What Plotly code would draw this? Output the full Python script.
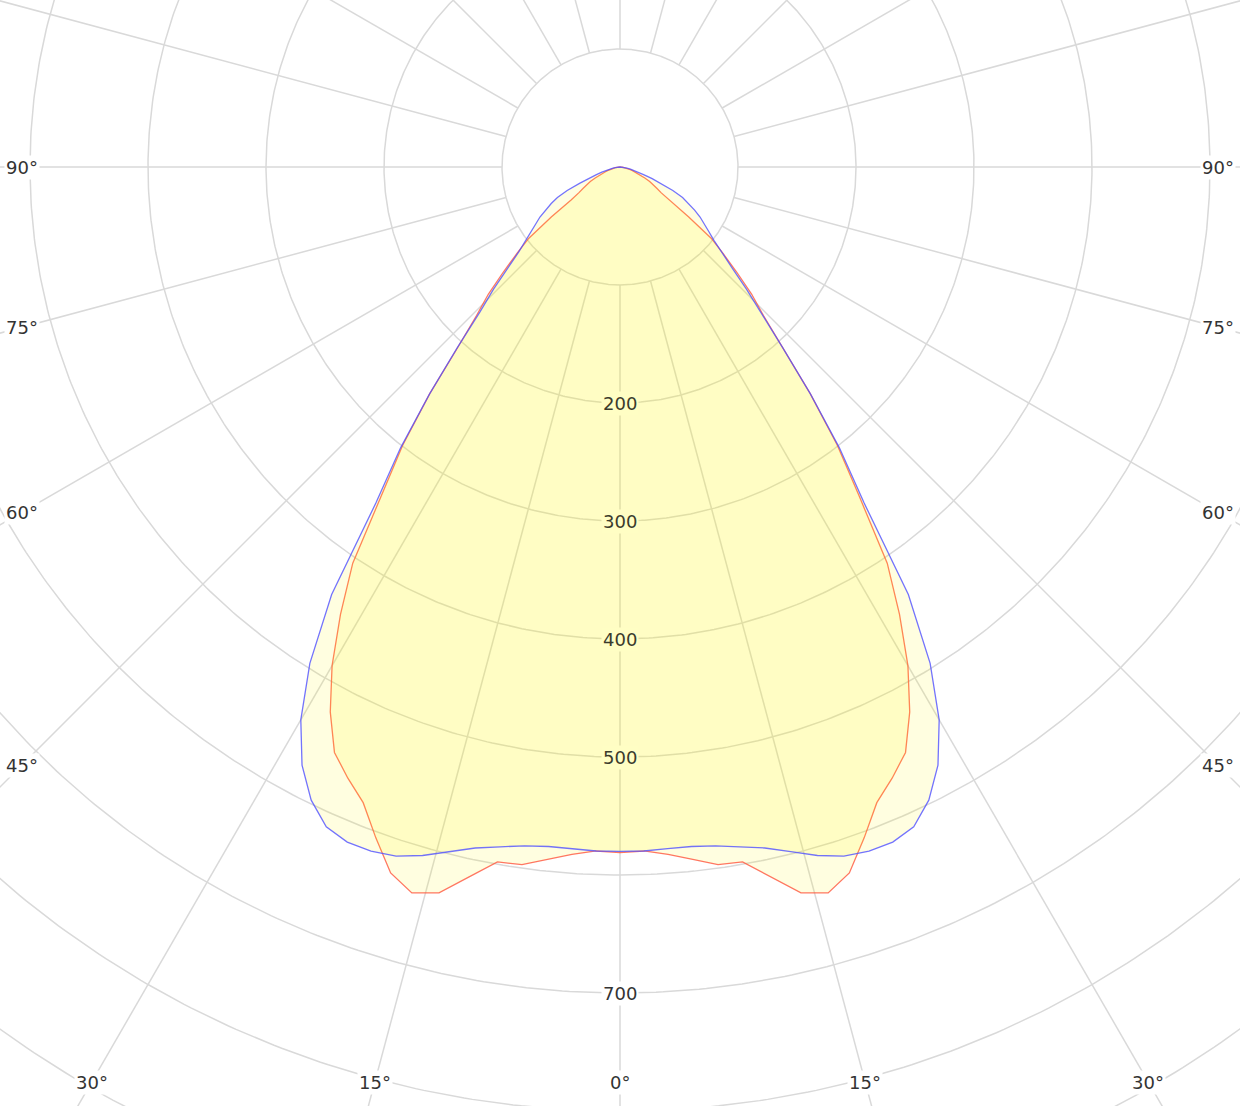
import numpy as np
import plotly.graph_objects as go

# ---------------- data (half profile, mirrored to both sides) ----------------
angles = [0, 2, 4, 6, 8, 10, 12, 14, 16, 18, 20, 22, 24, 26, 28, 30, 32, 34, 36, 38,
          40, 42, 44, 46, 48, 50, 52, 54, 56, 58, 60, 62, 64, 66, 68, 70, 72, 74, 76,
          78, 80, 82, 84, 86, 88, 90]
c0_c180 = [581, 580, 584, 590, 597, 598, 615, 634, 640, 629, 605, 581, 567, 552, 523,
           488, 447, 405, 345, 299, 251, 205, 175, 155, 133, 114, 98, 72, 50, 41, 36,
           32, 28, 23, 19, 16, 13, 11, 9, 7, 5, 4, 3, 2, 1, 0]
c90_c270 = [580, 580, 579, 579, 581, 585, 590, 598, 607, 614, 617, 617, 612, 597, 574,
            541, 496, 437, 352, 302, 251, 206, 171, 149, 128, 112, 101, 93, 86, 80, 73,
            66, 59, 49, 37, 29, 21, 16, 12, 9, 6, 4, 3, 2, 1, 0]

grid_radii = [100, 200, 300, 400, 500, 600, 700, 800, 900, 1000]
spoke_angles = list(range(0, 360, 15))
radial_tick_values = [200, 300, 400, 500, 700]
radial_tick_labels = ["200", "300", "400", "500", "700"]
angle_label_values = [0, 15, 30, 45, 60, 75, 90]

# ---------------- view ----------------
W, H = 1240, 1106
SCALE = 1.18          # px per cd unit
CX, CY = 620, 167     # pixel position of the pole
XMIN, XMAX = -CX / SCALE, (W - CX) / SCALE
YMIN, YMAX = -(H - CY) / SCALE, CY / SCALE


def to_xy(theta_deg, r):
    t = np.radians(np.asarray(theta_deg, dtype=float))
    r = np.asarray(r, dtype=float)
    return r * np.sin(t), -r * np.cos(t)


def mirrored(values):
    th = [-a for a in angles[::-1]] + angles[1:]
    rr = list(values[::-1]) + list(values[1:])
    return th, rr


GRID = "#d9d9d9"
fig = go.Figure()

# grid circles
tt = np.linspace(0, 360, 721)
cx, cy = [], []
for R in grid_radii:
    x, y = to_xy(tt, np.full_like(tt, R))
    cx += list(x) + [None]
    cy += list(y) + [None]
fig.add_trace(go.Scatter(x=cx, y=cy, mode="lines", line=dict(color=GRID, width=1.5),
                         hoverinfo="skip"))

# spokes
sx, sy = [], []
for a in spoke_angles:
    x, y = to_xy([a, a], [grid_radii[0], grid_radii[-1]])
    sx += list(x) + [None]
    sy += list(y) + [None]
fig.add_trace(go.Scatter(x=sx, y=sy, mode="lines", line=dict(color=GRID, width=1.5),
                         hoverinfo="skip"))

FILL = "rgba(255,250,0,0.12)"
for vals, col, name in [(c0_c180, "rgba(255,85,60,0.8)", "C0-C180"),
                        (c90_c270, "rgba(80,80,255,0.8)", "C90-C270")]:
    th, rr = mirrored(vals)
    x, y = to_xy(th, rr)
    fig.add_trace(go.Scatter(x=x, y=y, mode="lines", fill="toself", fillcolor=FILL,
                             line=dict(color=col, width=1.3), name=name))

annotations = []
# radial tick labels along the 0° spoke
for v, lab in zip(radial_tick_values, radial_tick_labels):
    inside = v < 590
    annotations.append(dict(
        x=0, y=-v, text=lab, showarrow=False, xanchor="center", yanchor="middle",
        font=dict(family="DejaVu Sans", size=18,
                  color="#3b3b2c" if inside else "#333333"),
        bgcolor="rgb(255,254,196)" if inside else "white", borderpad=1))

# angle labels where each spoke meets the view edge
side_lim = XMAX - 22 / SCALE
bot_lim = -YMIN - 24 / SCALE
for a in angle_label_values:
    s, c = np.sin(np.radians(a)), np.cos(np.radians(a))
    t_side = side_lim / s if s > 1e-9 else np.inf
    t_bot = bot_lim / c if c > 1e-9 else np.inf
    t = min(t_side, t_bot)
    for sign in ([1] if a == 0 else [-1, 1]):
        annotations.append(dict(
            x=sign * t * s, y=-t * c, text=f"{a}°", showarrow=False,
            xanchor="center", yanchor="middle",
            font=dict(family="DejaVu Sans", size=18, color="#333333"),
            bgcolor="white", borderpad=1))

fig.update_layout(
    width=W, height=H, margin=dict(l=0, r=0, t=0, b=0),
    paper_bgcolor="white", plot_bgcolor="white", showlegend=False,
    xaxis=dict(range=[XMIN, XMAX], visible=False, fixedrange=True),
    yaxis=dict(range=[YMIN, YMAX], visible=False, fixedrange=True),
    annotations=annotations,
)
fig.write_html("out.html", config={"displayModeBar": False},
               post_script="document.body.style.margin='0';"
                           "document.body.style.overflow='hidden';")
